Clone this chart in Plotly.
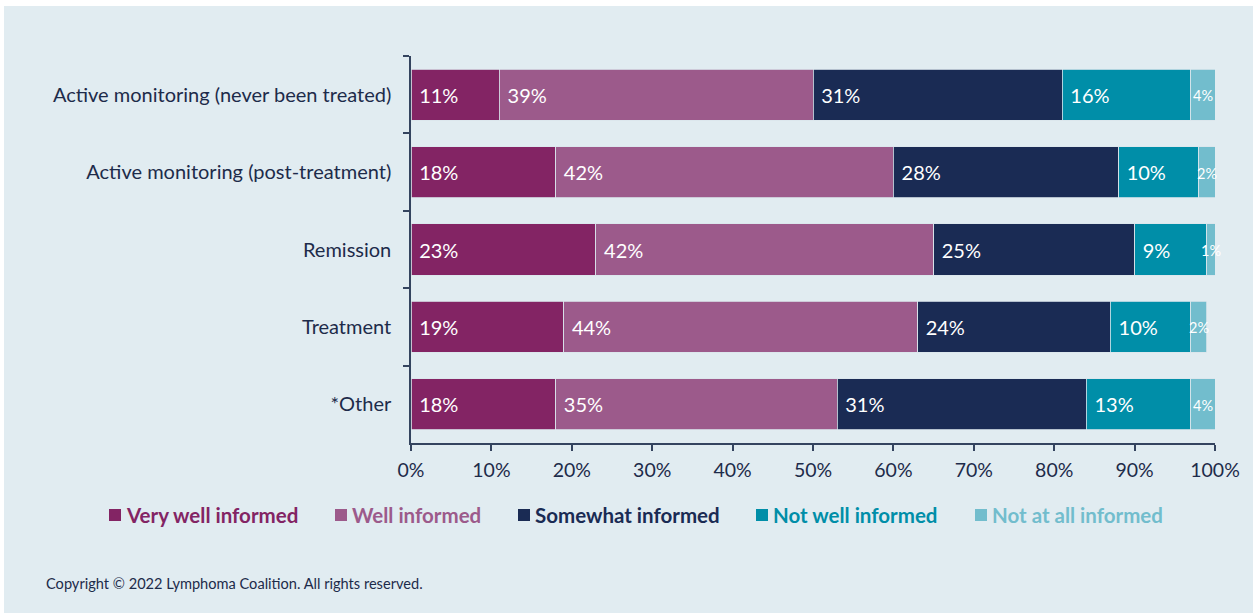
import plotly.graph_objects as go

# Survey stages (top to bottom) and share of respondents per answer
stages = [
    "Active monitoring (never been treated)",
    "Active monitoring (post-treatment)",
    "Remission",
    "Treatment",
    "*Other",
]
very_well = [11, 18, 23, 19, 18]
well = [39, 42, 42, 44, 35]
somewhat = [31, 28, 25, 24, 31]
not_well = [16, 10, 9, 10, 13]
not_at_all = [4, 2, 1, 2, 4]

series = [
    ("Very well informed", very_well, "#832464"),
    ("Well informed", well, "#9c5a8b"),
    ("Somewhat informed", somewhat, "#1a2b54"),
    ("Not well informed", not_well, "#008ea8"),
    ("Not at all informed", not_at_all, "#72bdcd"),
]

tick_values = [0, 10, 20, 30, 40, 50, 60, 70, 80, 90, 100]

BG = "#e1ecf1"
INK = "#1d2b4a"
AXIS = "#34445f"
FONT = "Lato"
X_MAX = 100

# Figure size and plot-area margins in pixels
W, H = 1253, 613
L, R, T, B = 411, 38, 56, 170
pw, ph = W - L - R, H - T - B


def px_x(x):
    return (x - L) / pw


def px_y(y):
    return (H - B - y) / ph


fig = go.Figure()

for name, vals, color in series:
    small = name == "Not at all informed"
    fig.add_trace(go.Bar(
        y=stages,
        x=vals,
        orientation="h",
        name=name,
        showlegend=False,
        marker=dict(color=color, line=dict(color="#dbe6ec", width=0.8)),
        text=None if small else [f"&nbsp;{v}%" for v in vals],
        textposition="inside",
        insidetextanchor="start",
        textangle=0,
        constraintext="none",
        textfont=dict(family=FONT, size=20, color="white"),
        hoverinfo="x+y",
    ))

# The thin last segment gets a smaller label, centred on the visible part
# of the segment (stacks that round past 100% are cut at the axis end).
seg_start = [a + b + c + d for a, b, c, d in zip(very_well, well, somewhat, not_well)]
seg_mid = [(s + min(s + v, X_MAX)) / 2 for s, v in zip(seg_start, not_at_all)]
for stage, mid, v in zip(stages, seg_mid, not_at_all):
    fig.add_annotation(
        x=mid, y=stage, xref="x", yref="y",
        text=f"{v}%", showarrow=False,
        xanchor="center", yanchor="middle", yshift=-1,
        font=dict(family=FONT, size=14.5, color="white"),
    )

# Light panel behind the chart
fig.add_shape(
    type="rect", xref="paper", yref="paper", layer="below",
    x0=px_x(4), x1=px_x(W + 2), y0=px_y(H + 2), y1=px_y(6),
    fillcolor=BG, line=dict(width=0),
)

# Legend row: coloured square followed by bold label in the series colour
legend_left = [109, 335, 518, 756, 975]
legend_mid, box = 515, 12
for (name, _, color), left in zip(series, legend_left):
    fig.add_shape(
        type="rect", xref="paper", yref="paper",
        x0=px_x(left), x1=px_x(left + box),
        y0=px_y(legend_mid + box / 2), y1=px_y(legend_mid - box / 2),
        fillcolor=color, line=dict(width=0),
    )
    fig.add_annotation(
        text=f"<b>{name}</b>",
        xref="paper", yref="paper", x=px_x(left + box + 3), y=px_y(legend_mid),
        xanchor="left", yanchor="middle", showarrow=False,
        font=dict(family=FONT, size=20.5, color=color),
    )

fig.add_annotation(
    text="Copyright © 2022 Lymphoma Coalition. All rights reserved.",
    xref="paper", yref="paper", x=px_x(44), y=px_y(583),
    xanchor="left", yanchor="middle", showarrow=False,
    font=dict(family=FONT, size=14.6, color=INK),
)

fig.update_layout(
    width=W, height=H,
    margin=dict(l=L, r=R, t=T, b=B, pad=0),
    barmode="stack",
    bargap=0.34,
    paper_bgcolor="white",
    plot_bgcolor=BG,
    font=dict(family=FONT, size=20, color=INK),
    showlegend=False,
    xaxis=dict(
        range=[0, X_MAX],
        tickvals=tick_values,
        ticktext=[f"{v}%" for v in tick_values],
        showgrid=False, zeroline=False,
        showline=True, linecolor=AXIS, linewidth=1.5,
        ticks="outside", ticklen=6, tickwidth=1.5, tickcolor=AXIS,
        tickfont=dict(family=FONT, size=19.5, color=INK),
        ticklabelstandoff=3,
    ),
    yaxis=dict(
        categoryorder="array",
        categoryarray=stages,
        autorange="reversed",
        showgrid=False, zeroline=False,
        showline=True, linecolor=AXIS, linewidth=1.5,
        ticks="outside", ticklen=6, tickwidth=1.5, tickcolor=AXIS,
        tickson="boundaries",
        tickfont=dict(family=FONT, size=20, color=INK),
        ticklabelstandoff=14,
    ),
)

fig.write_html("out.html")
